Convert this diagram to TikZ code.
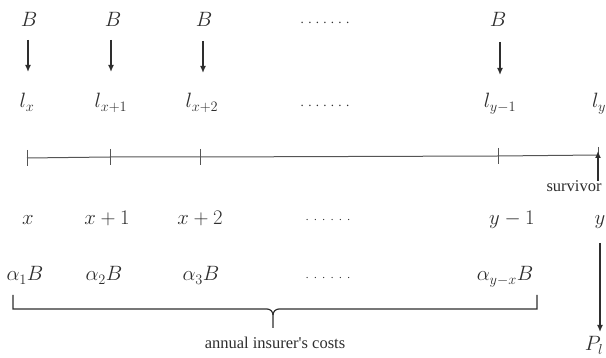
\documentclass[tikz,border=0pt]{standalone}
\usepackage{fontspec}
\newfontfamily\serifnote{Liberation Serif}
\usetikzlibrary{arrows.meta}
\definecolor{ink}{HTML}{2E2E2E}
\definecolor{axisgray}{HTML}{555555}
\def\bigdots{.\kern4.3pt.\kern4.3pt.\kern4.3pt.\kern4.3pt.\kern4.3pt.\kern4.3pt.}
\def\smalldots{.\kern5.6pt.\kern5.6pt.\kern5.6pt.\kern5.6pt.\kern5.6pt.}
\begin{document}
\begin{tikzpicture}[x=1pt,y=-1pt,
  lbl/.style={font=\fontsize{20}{24}\selectfont, inner sep=0pt, anchor=base, text=ink},
  dotsbig/.style={font=\serifnote\fontsize{13}{16}\selectfont, inner sep=0pt, anchor=base, text=ink},
  dotssmall/.style={font=\serifnote\fontsize{11}{14}\selectfont, inner sep=0pt, anchor=base, text=ink},
  note/.style={font=\serifnote\fontsize{16.5}{19}\selectfont, inner sep=0pt, anchor=base, text=ink},
  arr/.style={-{Latex[length=7pt,width=6pt]}, line width=1.4pt, ink},
  axis/.style={line width=1pt, axisgray},
  brace/.style={line width=1.2pt, ink}]
\useasboundingbox (0,0) rectangle (606,358);

% benefits
\node[lbl] (B1) at (29,27) {$B$};
\node[lbl] (B2) at (113,27) {$B$};
\node[lbl] (B3) at (204,27) {$B$};
\node[lbl] (B4) at (498,27) {$B$};
\node[dotsbig] (dB) at (325,24) {\bigdots};

% survivors
\node[lbl] (L1) at (27,108) {$l_x$};
\node[lbl] (L2) at (111,108) {$l_{x+1}$};
\node[lbl] (L3) at (202,108) {$l_{x+2}$};
\node[lbl] (L4) at (500,108) {$l_{y-1}$};
\node[lbl] (L5) at (599,108) {$l_y$};
\node[dotsbig] (dL) at (325,107) {\bigdots};

\coordinate (a1) at (28,40);  \coordinate (a1e) at (28,72);
\coordinate (a2) at (111,40); \coordinate (a2e) at (111,72);
\coordinate (a3) at (203,41); \coordinate (a3e) at (203,73);
\coordinate (a4) at (500,42); \coordinate (a4e) at (500,75);
\draw[arr] (a1) -- (a1e);
\draw[arr] (a2) -- (a2e);
\draw[arr] (a3) -- (a3e);
\draw[arr] (a4) -- (a4e);

% time axis
\coordinate (t0) at (27,158);
\coordinate (t1) at (110,157);
\coordinate (t2) at (200,157);
\coordinate (t3) at (498,156);
\coordinate (t4) at (598,155);
\draw[axis] (t0) -- (t1) -- (t2) -- (t3) -- (t4);
\foreach \t in {t0,t1,t2,t3,t4}{
  \draw[axis] (\t) ++(0,-8) -- ++(0,16);
}

% survivor
\node[note] (surv) at (574,192) {survivor};
\coordinate (sv) at (598,181);
\draw[arr] (sv) -- ([yshift=4pt]t4);

% ages
\node[lbl] (X1) at (28,225) {$x$};
\node[lbl] (X2) at (107,225) {$x+1$};
\node[lbl] (X3) at (200,225) {$x+2$};
\node[lbl] (X4) at (512,225) {$y-1$};
\node[lbl] (X5) at (600,225) {$y$};
\node[dotssmall] (dX) at (328,221) {\smalldots};

% costs
\node[lbl] (A1) at (25,281) {$\alpha_1 B$};
\node[lbl] (A2) at (104,281) {$\alpha_2 B$};
\node[lbl] (A3) at (201,281) {$\alpha_3 B$};
\node[lbl] (A4) at (505,281) {$\alpha_{y-x} B$};
\node[dotssmall] (dA) at (328,279) {\smalldots};

% brace
\draw[brace] (13,295) |- (267,309) to[out=0,in=90] (273,315) -- (273,328);
\draw[brace] (537,295) |- (279,309) to[out=180,in=90] (273,315);
\node[note] (cost) at (275,349) {annual insurer's costs};

% payment at y
\node[lbl] (P) at (594,351) {$P_l$};
\coordinate (pv) at (600,243);
\draw[arr] (pv) -- (600,332);
\end{tikzpicture}
\end{document}
